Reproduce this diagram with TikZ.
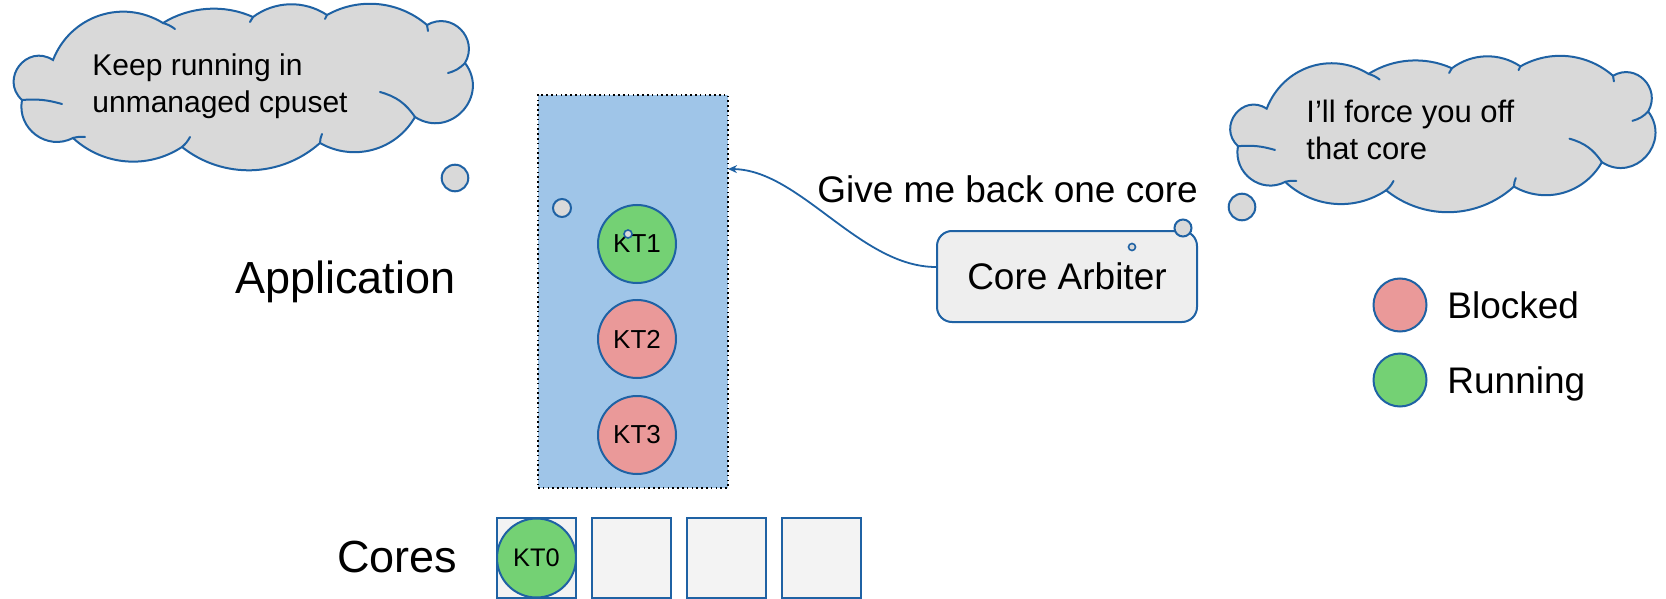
\documentclass[tikz,border=0pt]{standalone}
\usepackage{fontspec}
\setmainfont{Liberation Sans}
\usetikzlibrary{arrows.meta}

\definecolor{edgeblue}{HTML}{1F62A4}
\definecolor{appblue}{HTML}{9FC5E8}
\definecolor{runfill}{HTML}{74D174}
\definecolor{blockfill}{HTML}{EA9999}
\definecolor{cloudfill}{HTML}{D9D9D9}
\definecolor{arbfill}{HTML}{EEEEEE}
\definecolor{corefill}{HTML}{F3F3F3}

\tikzset{
  outline/.style={draw=edgeblue, line width=1pt},
  cloudline/.style={draw=edgeblue, fill=cloudfill, line width=1pt},
  thread/.style={circle, outline, minimum size=39pt, inner sep=0pt,
    font=\fontsize{13}{15}\selectfont},
  running/.style={thread, fill=runfill},
  blocked/.style={thread, fill=blockfill},
  bubble/.style={circle, outline, fill=cloudfill, inner sep=0pt, minimum size=#1},
  corebox/.style={rectangle, outline, fill=corefill, minimum width=39.5pt,
    minimum height=40pt, inner sep=0pt},
  appframe/.style={rectangle, fill=appblue, draw=black, line width=0.8pt,
    dash pattern=on 0.8pt off 1.6pt, minimum width=95pt, minimum height=196.5pt,
    inner sep=0pt},
  arbbox/.style={rectangle, rounded corners=7.5pt, outline, fill=arbfill,
    minimum width=130pt, minimum height=45.5pt, font=\fontsize{18.5}{22}\selectfont},
  cloudtext/.style={align=left, inner sep=0pt, font=\fontsize{15}{19}\selectfont},
  bigtext/.style={inner sep=0pt, font=\fontsize{18.5}{22}\selectfont},
  headtext/.style={inner sep=0pt, font=\fontsize{22.5}{27}\selectfont},
  % a thought cloud made of puffs, with the short inner strokes at the joins
  thoughtcloud/.pic={
    \filldraw[cloudline] (53,60)
      to[bend right=85, looseness=1.57] (22,100)
      to[bend right=64, looseness=1.18] (73,138)
      to[bend right=38, looseness=0.96] (182,147)
      to[bend right=40, looseness=0.97] (320,143)
      to[bend right=45, looseness=1.0] (415,117)
      to[bend right=80, looseness=1.45] (465,63)
      to[bend right=75, looseness=1.36] (427,25)
      to[bend right=35, looseness=0.94] (327,15)
      to[bend right=35, looseness=0.94] (253,17)
      to[bend right=28, looseness=0.9] (163,23)
      to[bend right=50, looseness=1.05] (53,60) -- cycle;
    \draw[outline, line cap=round]
      (22,100) to[bend left=10] (62,104)
      (73,138) to[bend left=10] (85,137)
      (182,147) to[bend right=10] (190,137)
      (320,143) to[bend left=10] (322,134)
      (380,92) to[bend left=20] (415,117)
      (465,63) to[bend left=15] (448,73)
      (427,25) to[bend left=10] (428,31)
      (327,15) to[bend right=10] (325,19)
      (253,17) to[bend right=10] (250,22)
      (163,23) to[bend left=10] (175,29);
  }
}

\begin{document}
\begin{tikzpicture}[x=0.5pt, y=-0.5pt]
\useasboundingbox (0,0) rectangle (1666,599);

% thought clouds
\pic at (0,0) {thoughtcloud};
\pic[xscale=0.926, yscale=0.939] at (1217.6,52.3) {thoughtcloud};
% multi-line nodes: the base anchor sits on the last line
\node[cloudtext, anchor=base west] (keep) at (92,113) {Keep running in\\unmanaged cpuset};
\node[cloudtext, anchor=base west, font=\fontsize{15.5}{18.5}\selectfont] (force) at (1306,160)
  {I’ll force you off\\that core};

% application frame with its kernel threads
\node[appframe] (app) at (633,291.5) {};
\node[running] (kt1) at (637,244) {KT1};
\node[blocked] (kt2) at (637,339) {KT2};
\node[blocked] (kt3) at (637,435) {KT3};

% thought bubbles of the application
\node[bubble=13.3pt] (ab1) at (455,178) {};
\node[bubble=9pt] (ab2) at (562,208) {};
\node[bubble=4pt, line width=0.8pt] (ab3) at (628,234) {};

% core arbiter
\node[arbbox] (arb) at (1067,276.5) {Core Arbiter};
\node[bubble=13.3pt] (cb1) at (1242,207) {};
\node[bubble=8.5pt] (cb2) at (1183,228) {};
\node[bubble=3.5pt, line width=0.8pt] (cb3) at (1132,247) {};

% request from the arbiter to the application
\coordinate (ask) at (728,169);
\draw[outline, line width=0.9pt, -{Stealth[length=4.5pt, width=4pt]}]
  ([yshift=4.75pt]arb.west) .. controls (860,267) and (800,170) .. (ask);
\node[bigtext, anchor=base west] (givemsg) at (817,202) {Give me back one core};

% row labels
\node[headtext, anchor=base west] (applbl) at (235,293) {Application};
\node[headtext, anchor=base west] (corelbl) at (337,572) {Cores};

% cores
\node[corebox] (c0) at (536.5,558) {};
\node[corebox] (c1) at (631.5,558) {};
\node[corebox] (c2) at (726.5,558) {};
\node[corebox] (c3) at (821.5,558) {};
\node[running, minimum size=39.5pt, font=\fontsize{12.7}{15}\selectfont] (kt0) at (c0) {KT0};

% legend
\node[blocked, minimum size=26.5pt] (lgblk) at (1400,305) {};
\node[running, minimum size=26.5pt] (lgrun) at (1400,380) {};
\node[bigtext, anchor=base west] (lgblktxt) at (1447,318) {Blocked};
\node[bigtext, anchor=base west] (lgruntxt) at (1447,393) {Running};
\end{tikzpicture}
\end{document}
